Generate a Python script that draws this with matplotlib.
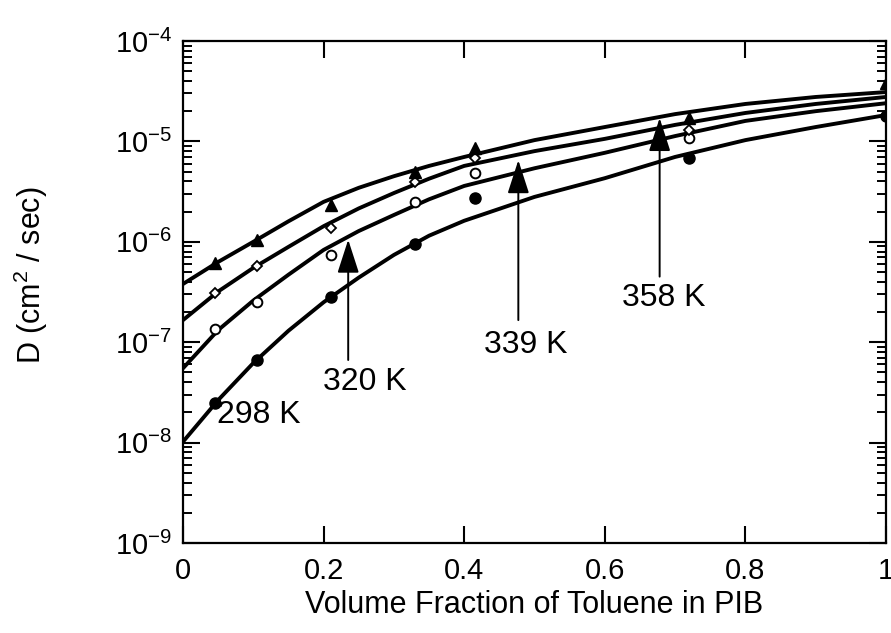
import matplotlib
matplotlib.use("Agg")
import matplotlib.pyplot as plt
from matplotlib.ticker import LogLocator, NullFormatter

plt.rcParams['font.family'] = ['Liberation Sans', 'DejaVu Sans']
plt.rcParams['mathtext.default'] = 'regular'
plt.rcParams['axes.unicode_minus'] = False

# ---- data ----
# fitted curves (x grid, D in cm^2/s)
curve_x = [0.0, 0.05, 0.1, 0.15, 0.2, 0.25, 0.3, 0.35, 0.4, 0.5, 0.6, 0.7, 0.8, 0.9, 1.0]
curve_298 = [1.02e-8, 2.65e-8, 6.2e-8, 1.3e-7, 2.5e-7, 4.4e-7, 7.4e-7, 1.15e-6, 1.62e-6, 2.8e-6, 4.3e-6, 7.0e-6, 1.03e-5, 1.39e-5, 1.83e-5]
curve_320 = [5.5e-8, 1.32e-7, 2.6e-7, 4.7e-7, 8.3e-7, 1.28e-6, 1.85e-6, 2.65e-6, 3.6e-6, 5.4e-6, 7.7e-6, 1.13e-5, 1.6e-5, 2.0e-5, 2.4e-5]
curve_339 = [1.66e-7, 3.2e-7, 5.5e-7, 8.9e-7, 1.43e-6, 2.15e-6, 3.06e-6, 4.25e-6, 5.7e-6, 8.0e-6, 1.06e-5, 1.46e-5, 1.92e-5, 2.36e-5, 2.77e-5]
curve_358 = [3.8e-7, 6.3e-7, 1.0e-6, 1.6e-6, 2.5e-6, 3.45e-6, 4.5e-6, 5.7e-6, 7.0e-6, 1.03e-5, 1.39e-5, 1.87e-5, 2.36e-5, 2.77e-5, 3.1e-5]

# measured points
pts_x_298 = [0.045, 0.105, 0.21, 0.33, 0.415, 0.72, 1.0]
pts_D_298 = [2.5e-8, 6.6e-8, 2.8e-7, 9.5e-7, 2.7e-6, 6.9e-6, 1.8e-5]
pts_x_320 = [0.045, 0.105, 0.21, 0.33, 0.415, 0.72]
pts_D_320 = [1.35e-7, 2.5e-7, 7.4e-7, 2.5e-6, 4.8e-6, 1.07e-5]
pts_x_339 = [0.045, 0.105, 0.21, 0.33, 0.415, 0.72]
pts_D_339 = [3.1e-7, 5.7e-7, 1.38e-6, 3.9e-6, 6.8e-6, 1.3e-5]
pts_x_358 = [0.045, 0.105, 0.21, 0.33, 0.415, 0.72, 1.0]
pts_D_358 = [6.2e-7, 1.05e-6, 2.3e-6, 5.0e-6, 8.6e-6, 1.7e-5, 3.8e-5]

x_ticks = [0, 0.2, 0.4, 0.6, 0.8, 1.0]
x_ticklabels = ['0', '0.2', '0.4', '0.6', '0.8', '1']

# ---- figure ----
fig = plt.figure(figsize=(8.91, 6.33), dpi=100)
ax = fig.add_axes([183/891, 1-543/633, (886-183)/891, (543-41)/633])
ax.set_yscale('log')
ax.set_xlim(0, 1)
ax.set_ylim(1e-9, 1e-4)

lw = 2.8
for cy in (curve_298, curve_320, curve_339, curve_358):
    ax.plot(curve_x, cy, color='black', lw=lw, solid_capstyle='round',
            solid_joinstyle='round', zorder=2)

ax.plot(pts_x_298, pts_D_298, 'o', ms=8, color='black', zorder=3)
ax.plot(pts_x_320, pts_D_320, 'o', ms=7, mfc='white', mec='black', mew=1.4, zorder=3)
ax.plot(pts_x_339, pts_D_339, 'D', ms=5, mfc='white', mec='black', mew=1.3, zorder=3)
ax.plot(pts_x_358, pts_D_358, '^', ms=9, color='black', zorder=3)

# annotations
arrow_style = '-|>,head_length=1.3,head_width=0.42'
for (xa, tail, tip) in [(0.235, 6.65e-8, 1.05e-6), (0.477, 1.66e-7, 6.5e-6), (0.678, 4.5e-7, 1.71e-5)]:
    ax.annotate('', xy=(xa, tip), xytext=(xa, tail),
                arrowprops=dict(arrowstyle=arrow_style, color='black', lw=1.4,
                                shrinkA=0, shrinkB=0, mutation_scale=16),
                zorder=4)

ax.text(0.048, 1.88e-8, '298 K', ha='left', va='center', fontsize=23)
ax.text(0.199, 4.0e-8, '320 K', ha='left', va='center', fontsize=23)
ax.text(0.428, 9.3e-8, '339 K', ha='left', va='center', fontsize=23)
ax.text(0.624, 2.75e-7, '358 K', ha='left', va='center', fontsize=23)

ax.set_xticks(x_ticks)
ax.set_xticklabels(x_ticklabels)
ax.yaxis.set_major_locator(LogLocator(base=10, numticks=20))
ax.yaxis.set_minor_locator(LogLocator(base=10, subs=[2, 3, 4, 5, 6, 7, 8, 9], numticks=100))
ax.yaxis.set_minor_formatter(NullFormatter())
ax.tick_params(axis='both', which='major', direction='in', length=12, width=1.5,
               top=True, right=True, labelsize=21)
ax.tick_params(axis='y', which='minor', direction='in', length=6.5, width=1.4,
               left=True, right=True)
ax.tick_params(axis='x', which='major', pad=10)
ax.tick_params(axis='y', which='major', pad=8)
for s in ax.spines.values():
    s.set_linewidth(1.6)

ax.set_xlabel('Volume Fraction of Toluene in PIB', fontsize=22)
ax.set_ylabel('D (cm$^2$ / sec)', fontsize=22)
ax.xaxis.set_label_coords(0.5, -0.093)
ax.yaxis.set_label_coords(-0.189, 0.534)

fig.savefig('out.png', dpi=100)
